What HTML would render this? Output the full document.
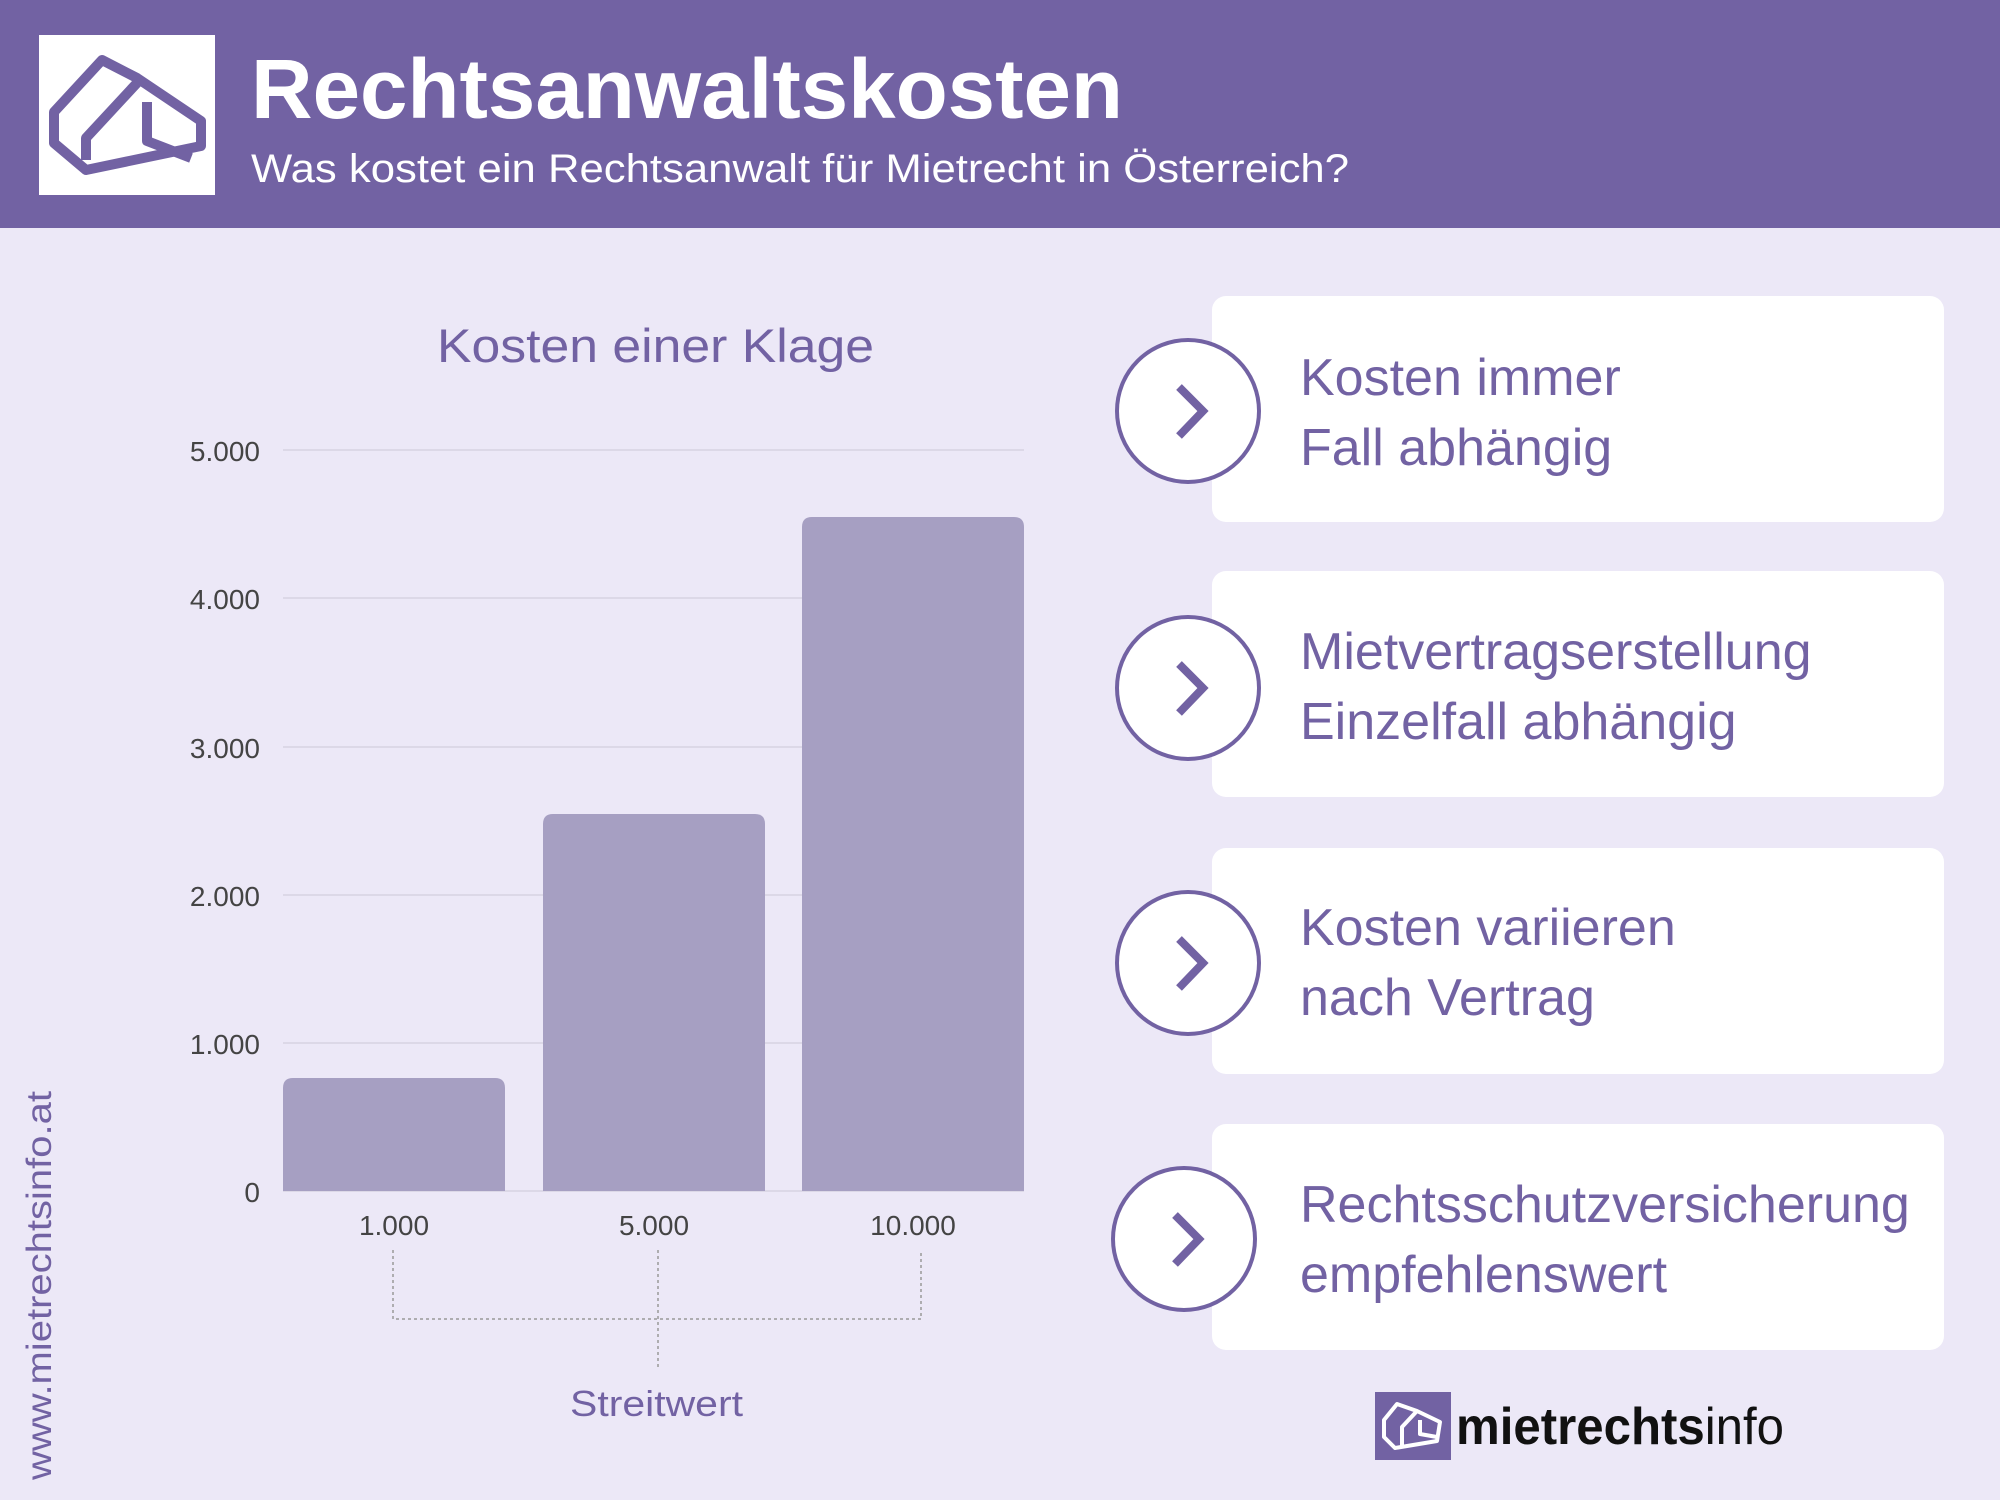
<!DOCTYPE html>
<html><head><meta charset="utf-8"><style>
body{margin:0;width:2000px;height:1500px;background:#ece8f7;position:relative;overflow:hidden;font-family:"Liberation Sans",sans-serif;}
.hdr{position:absolute;left:0;top:0;width:2000px;height:228px;background:#7262a3;}
.card{position:absolute;left:1212px;width:732px;height:226px;background:#fff;border-radius:14px;}
.ct{position:absolute;left:1300px;color:#7262a3;font-size:52px;line-height:70px;}
</style></head><body>
<div class="hdr"></div>
<div style="position:absolute;left:39px;top:35px;width:176px;height:160px;background:#fff"></div>
<svg style="position:absolute;left:0;top:0" width="2000" height="1500">
 <g fill="none" stroke="#7262a3" stroke-width="10" stroke-linejoin="round">
  <path d="M102 60 L54 112 L54 143 L86 170 L201 146 L201 121 L137 78 Z"/>
  <path d="M137 83 L86 138 L86 160"/>
  <path d="M147 102 L147 141 L191 158"/>
 </g>
 <text x="251" y="118" fill="#fff" font-size="84" font-weight="bold" font-family="Liberation Sans" textLength="872" lengthAdjust="spacingAndGlyphs">Rechtsanwaltskosten</text>
 <text x="251" y="182" fill="#fff" font-size="40" font-family="Liberation Sans" textLength="1098" lengthAdjust="spacingAndGlyphs">Was kostet ein Rechtsanwalt für Mietrecht in Österreich?</text>
 <text x="437" y="362" fill="#7262a3" font-size="47" font-family="Liberation Sans" textLength="437" lengthAdjust="spacingAndGlyphs">Kosten einer Klage</text>
 <g stroke="#d6d2e2" stroke-width="1.5">
  <line x1="283" y1="450" x2="1024" y2="450"/><line x1="283" y1="598" x2="1024" y2="598"/>
  <line x1="283" y1="747" x2="1024" y2="747"/><line x1="283" y1="895" x2="1024" y2="895"/>
  <line x1="283" y1="1043" x2="1024" y2="1043"/><line x1="283" y1="1191" x2="1024" y2="1191"/>
 </g>
 <g fill="#444" font-size="28" text-anchor="end" font-family="Liberation Sans">
  <text x="260" y="461">5.000</text><text x="260" y="609">4.000</text><text x="260" y="758">3.000</text>
  <text x="260" y="906">2.000</text><text x="260" y="1054">1.000</text><text x="260" y="1202">0</text>
 </g>
 <g fill="#a69fc2">
  <path d="M283 1191 V1088 Q283 1078 293 1078 H495 Q505 1078 505 1088 V1191 Z"/>
  <path d="M543 1191 V824 Q543 814 553 814 H755 Q765 814 765 824 V1191 Z"/>
  <path d="M802 1191 V527 Q802 517 812 517 H1014 Q1024 517 1024 527 V1191 Z"/>
 </g>
 <g fill="#444" font-size="28" text-anchor="middle" font-family="Liberation Sans">
  <text x="394" y="1235">1.000</text><text x="654" y="1235">5.000</text><text x="913" y="1235">10.000</text>
 </g>
 <g stroke="#999" stroke-width="1.5" stroke-dasharray="3,3" fill="none">
  <path d="M393 1250 V1319 H921 V1250"/><path d="M658 1250 V1367"/>
 </g>
 <text x="570" y="1416" fill="#7262a3" font-size="36" font-family="Liberation Sans" textLength="173" lengthAdjust="spacingAndGlyphs">Streitwert</text>
 <text transform="translate(51,1480) rotate(-90)" fill="#7262a3" font-size="35" font-family="Liberation Sans" textLength="389" lengthAdjust="spacingAndGlyphs">www.mietrechtsinfo.at</text>
</svg>
<div class="card" style="top:296px"></div>
<div class="card" style="top:571px"></div>
<div class="card" style="top:848px"></div>
<div class="card" style="top:1124px"></div>
<div class="ct" style="top:343px">Kosten immer<br>Fall abhängig</div>
<div class="ct" style="top:617px">Mietvertragserstellung<br>Einzelfall abhängig</div>
<div class="ct" style="top:893px">Kosten variieren<br>nach Vertrag</div>
<div class="ct" style="top:1170px">Rechtsschutzversicherung<br>empfehlenswert</div>
<svg style="position:absolute;left:0;top:0" width="2000" height="1500">
 <g fill="#fff" stroke="#7262a3" stroke-width="4">
  <circle cx="1188" cy="411" r="71"/><circle cx="1188" cy="688" r="71"/>
  <circle cx="1188" cy="963" r="71"/><circle cx="1184" cy="1239" r="71"/>
 </g>
 <g fill="none" stroke="#7262a3" stroke-width="8">
  <path d="M1179 387 L1203 411 L1179 436"/><path d="M1179 664 L1203 688 L1179 713"/>
  <path d="M1179 939 L1203 963 L1179 988"/><path d="M1175 1215 L1199 1239 L1175 1264"/>
 </g>
 <rect x="1375" y="1392" width="76" height="68" fill="#7262a3"/>
 <g fill="none" stroke="#fff" stroke-width="4" stroke-linejoin="round">
  <path d="M1397 1404 L1384 1420 L1384 1437 L1395 1448 L1437 1441 L1440 1422 L1417 1411 Z"/>
  <path d="M1417 1411 L1402 1427 L1402 1446"/><path d="M1420 1420 L1420 1434 L1437 1437"/>
 </g>
 <text x="1456" y="1444" font-size="52" font-family="Liberation Sans" fill="#111" textLength="328" lengthAdjust="spacingAndGlyphs"><tspan font-weight="bold">mietrechts</tspan><tspan>info</tspan></text>
</svg>
</body></html>
